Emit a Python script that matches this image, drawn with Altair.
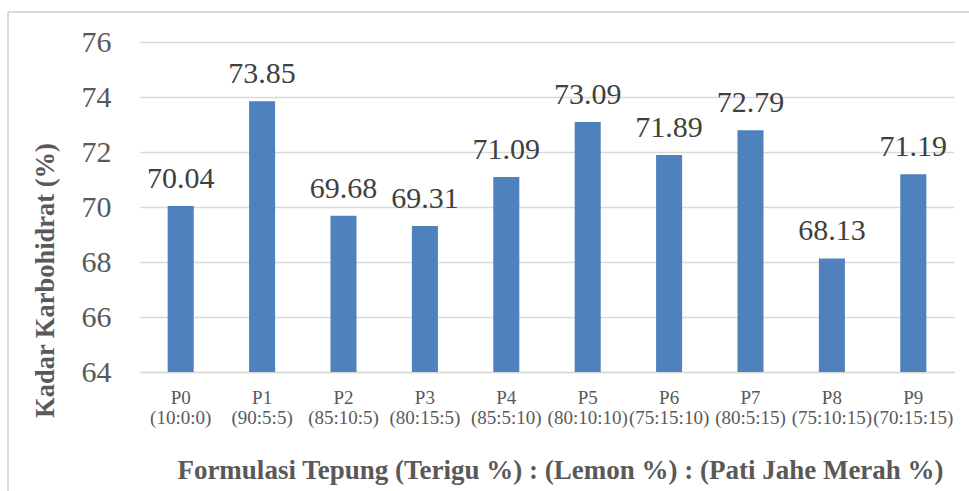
import altair as alt
import pandas as pd

# Carbohydrate content per flour formulation
codes = ["P0", "P1", "P2", "P3", "P4", "P5", "P6", "P7", "P8", "P9"]
ratios = ["(10:0:0)", "(90:5:5)", "(85:10:5)", "(80:15:5)", "(85:5:10)",
          "(80:10:10)", "(75:15:10)", "(80:5:15)", "(75:10:15)", "(70:15:15)"]
karbohidrat = [70.04, 73.85, 69.68, 69.31, 71.09, 73.09, 71.89, 72.79, 68.13, 71.19]
y_ticks = [64, 66, 68, 70, 72, 74, 76]

df = pd.DataFrame({
    "formulasi": [f"{c}|{r}" for c, r in zip(codes, ratios)],
    "nilai": karbohidrat,
    "label": [f"{v:.2f}" for v in karbohidrat],
})

FONT = "'Liberation Serif', 'Times New Roman', Times, 'DejaVu Serif', serif"
GREY = "#595959"
GRID = "#D9D9D9"

x_enc = alt.X(
    "formulasi:N", sort=None,
    scale=alt.Scale(paddingInner=0.68, paddingOuter=0.34),
    axis=alt.Axis(
        title="Formulasi Tepung (Terigu %) : (Lemon %) : (Pati Jahe Merah %)",
        labelExpr="split(datum.label, '|')",
        labelAngle=0, labelFont=FONT, labelFontSize=19, labelColor=GREY,
        labelLineHeight=20, labelPadding=16, labelBaseline="top",
        domainColor=GRID, domainWidth=1.5, ticks=False,
        titleFont=FONT, titleFontSize=27, titleFontWeight="bold", titleColor=GREY,
        titleX=420, titleY=106, titleAnchor="middle", titleAlign="center",
        titleBaseline="alphabetic",
    ),
)
y_enc = alt.Y(
    "nilai:Q",
    scale=alt.Scale(domain=[64, 76], zero=False, nice=False),
    axis=alt.Axis(
        title="Kadar Karbohidrat (%)", values=y_ticks,
        labelFont=FONT, labelFontSize=30, labelColor=GREY, labelPadding=29,
        gridColor=GRID, gridWidth=1.5, domain=False, ticks=False,
        titleFont=FONT, titleFontSize=26.5, titleFontWeight="bold", titleColor=GREY,
        titleX=-95, titleY=238, titleAlign="center", titleBaseline="middle",
        titleAnchor="middle",
    ),
)

bars = alt.Chart(df).mark_bar(color="#4F81BD").encode(
    x=x_enc, y=y_enc, y2=alt.datum(64)
)

labels = alt.Chart(df).mark_text(
    font=FONT, fontSize=30, color="#404040", baseline="alphabetic", dy=-18
).encode(x=alt.X("formulasi:N", sort=None), y="nilai:Q", text="label:N")

# outer frame lines (left and top edges)
frame_left = alt.Chart(df).mark_rule(color=GRID, strokeWidth=1.5).encode(
    x=alt.value(-132), y=alt.value(-30), y2=alt.value(460)
)
frame_top = alt.Chart(df).mark_rule(color=GRID, strokeWidth=1.5).encode(
    x=alt.value(-132), x2=alt.value(840), y=alt.value(-30)
)

chart = alt.layer(frame_left, frame_top, bars, labels).properties(
    width=814, height=330,
    autosize=alt.AutoSizeParams(type="none"),
    padding={"left": 140, "top": 42, "right": 15, "bottom": 119},
    background="white",
).configure_view(stroke=None)

chart.save("out.html", embed_options={"renderer": "svg", "actions": False})
